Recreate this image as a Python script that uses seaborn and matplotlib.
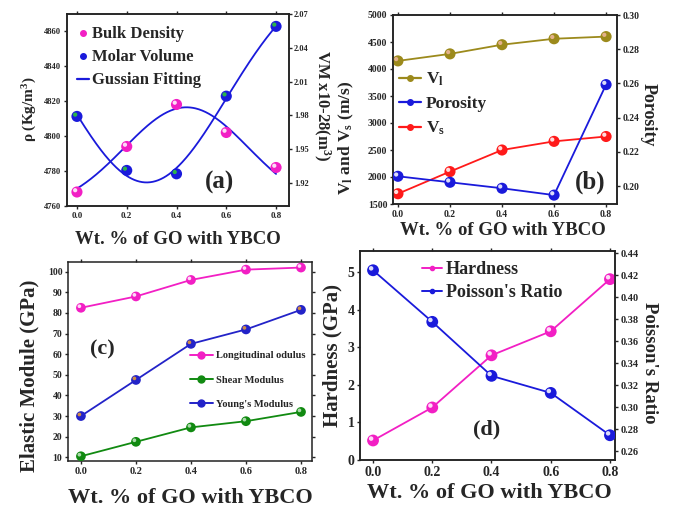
import numpy as np
import matplotlib
matplotlib.use("Agg")
import matplotlib.pyplot as plt
import matplotlib.transforms as mtransforms
from matplotlib.lines import Line2D
from matplotlib.ticker import FormatStrFormatter
import seaborn as sns

# ---------------- data ----------------
go_wt = [0.0, 0.2, 0.4, 0.6, 0.8]
x_ticks = [0.0, 0.2, 0.4, 0.6, 0.8]

# (a) density and molar volume
bulk_density = [4768, 4794, 4818, 4802, 4782]
molar_volume = [1.979, 1.931, 1.928, 1.997, 2.059]

# (b) sound velocities and porosity
v_long = [4150, 4280, 4450, 4560, 4600]
v_shear = [1690, 2100, 2500, 2660, 2750]
porosity = [0.2057, 0.2022, 0.1987, 0.1947, 0.2593]

# (c) elastic moduli
longitudinal_mod = [82.5, 88.0, 96.0, 101.0, 102.0]
shear_mod = [10.5, 17.5, 24.5, 27.5, 32.0]
young_mod = [30.0, 47.5, 65.0, 72.0, 81.5]

# (d) hardness and Poisson's ratio
hardness = [0.52, 1.40, 2.79, 3.43, 4.82]
poisson = [0.4245, 0.3776, 0.3285, 0.313, 0.2745]

# ---------------- style ----------------
sns.set_style("ticks")
plt.rcParams.update({
    "font.family": ["Liberation Serif", "DejaVu Serif"],
    "font.weight": "bold",
    "axes.labelweight": "bold",
    "mathtext.fontset": "custom",
    "mathtext.rm": "Liberation Serif:bold",
    "mathtext.it": "Liberation Serif:bold",
    "mathtext.bf": "Liberation Serif:bold",
    "axes.linewidth": 1.1,
    "xtick.major.width": 1.0,
    "ytick.major.width": 1.0,
    "xtick.major.size": 2.5,
    "ytick.major.size": 2.5,
    "xtick.major.pad": 2,
    "ytick.major.pad": 1.5,
    "axes.edgecolor": "#222222",
})

PINK = "#f21fc4"
BLUE = "#1a1adb"
OLIVE = "#9c8a1c"
RED = "#ff1a1a"
GREEN = "#118a11"
CBLUE = "#2323c8"


def gauss_fit(x, y, n=300):
    """Least-squares Gaussian y0 + A*exp(-(x-xc)^2/(2w^2)), grid over xc, w."""
    x = np.asarray(x, float)
    y = np.asarray(y, float)
    best = None
    ones = np.ones_like(x)
    for xc in np.linspace(-0.6, 1.6, 221):
        for w in np.linspace(0.05, 1.2, 116):
            g = np.exp(-(x - xc) ** 2 / (2 * w * w))
            M = np.column_stack([ones, g])
            coef, *_ = np.linalg.lstsq(M, y, rcond=None)
            r = np.sum((M @ coef - y) ** 2)
            if best is None or r < best[0]:
                best = (r, xc, w, coef)
    _, xc, w, (y0, A) = best
    xs = np.linspace(x.min(), x.max(), n)
    return xs, y0 + A * np.exp(-(xs - xc) ** 2 / (2 * w * w))


def spheres(ax, x, y, color, ms, glint="white"):
    """Shaded ball markers: base disc plus an offset highlight."""
    sns.scatterplot(x=x, y=y, ax=ax, color=color, s=ms ** 2,
                    edgecolor="none", zorder=4, legend=False)
    shift = mtransforms.offset_copy(ax.transData, fig=ax.figure,
                                    x=-ms * 0.16, y=ms * 0.16, units="points")
    ax.scatter(x, y, s=(ms * 0.38) ** 2, color=glint, transform=shift,
               zorder=5, edgecolors="none", alpha=0.85)


def style_x(ax, xlim, size):
    ax.set_xlim(*xlim)
    ax.set_xticks(x_ticks)
    ax.xaxis.set_major_formatter(FormatStrFormatter("%.1f"))
    ax.tick_params(axis="x", labelsize=size, top=True, direction="out")


def set_ylabel_at(ax, text, x, y, size, rotation=90):
    ax.set_ylabel(text, fontsize=size, fontweight="bold", rotation=rotation)
    ax.yaxis.set_label_coords(x, y)
    ax.yaxis.label.set_va("center")
    ax.yaxis.label.set_ha("center")
    ax.yaxis.label.set_rotation_mode("default")


def set_xlabel_at(ax, text, x, y, size):
    ax.set_xlabel(text, fontsize=size, fontweight="bold")
    ax.xaxis.set_label_coords(x, y)
    ax.xaxis.label.set_va("center")


def bold_ticks(ax):
    for lab in ax.get_xticklabels() + ax.get_yticklabels():
        lab.set_fontweight("bold")


W, H = 675, 508
fig = plt.figure(figsize=(W / 100, H / 100), dpi=100)
fig.patch.set_facecolor("white")


def box(l, r, t, b):
    return [l / W, 1 - b / H, (r - l) / W, (b - t) / H]


XLAB = "Wt. % of GO with YBCO"

# ---------------- (a) ----------------
ax_a = fig.add_axes(box(67, 289, 14, 206))
ax_a2 = ax_a.twinx()
xs, fit_bd = gauss_fit(go_wt, bulk_density)
xs2, fit_mv = gauss_fit(go_wt, molar_volume)
sns.lineplot(x=xs, y=fit_bd, ax=ax_a, color=BLUE, lw=1.3)
sns.lineplot(x=xs2, y=fit_mv, ax=ax_a2, color=BLUE, lw=1.3)
spheres(ax_a, go_wt, bulk_density, PINK, 8.0)
spheres(ax_a2, go_wt, molar_volume, BLUE, 8.0, glint="#2fd02f")
ax_a.set_ylim(4760, 4869.7)
ax_a.set_yticks(np.arange(4760, 4861, 20))
ax_a2.set_ylim(1.8994, 2.0694)
ax_a2.set_yticks(np.arange(1.92, 2.071, 0.03))
ax_a2.yaxis.set_major_formatter(FormatStrFormatter("%.2f"))
style_x(ax_a, (-0.04, 0.852), 6.5)
ax_a.tick_params(axis="y", labelsize=6.2)
ax_a2.tick_params(axis="y", labelsize=6.0, pad=1)
set_ylabel_at(ax_a, r"ρ (Kg/m$^3$)", -0.167, 0.505, 11)
set_ylabel_at(ax_a2, r"VM x10-28(m$^3$)", 1.148, 0.52, 12, rotation=270)
set_xlabel_at(ax_a, XLAB, 0.498, -0.177, 13.5)
ax_a.text(0.689, 0.125, "(a)", transform=ax_a.transAxes, fontsize=18,
          fontweight="bold", ha="center", va="center")
handles_a = [
    Line2D([], [], ls="none", marker="o", color=PINK, markersize=4),
    Line2D([], [], ls="none", marker="o", color=BLUE, markersize=4),
    Line2D([], [], color=BLUE, lw=1.6),
]
ax_a.legend(handles_a, ["Bulk Density", "Molar Volume", "Gussian Fitting"],
            loc="upper left", bbox_to_anchor=(0.045, 0.935), frameon=False,
            prop={"size": 12, "weight": "bold"}, handlelength=0.7,
            handletextpad=0.2, labelspacing=0.42, borderpad=0, borderaxespad=0)
bold_ticks(ax_a); bold_ticks(ax_a2)

# ---------------- (b) ----------------
ax_b = fig.add_axes(box(393, 617, 15, 204))
ax_b2 = ax_b.twinx()
sns.lineplot(x=go_wt, y=v_long, ax=ax_b, color=OLIVE, lw=1.3)
sns.lineplot(x=go_wt, y=v_shear, ax=ax_b, color=RED, lw=1.3)
sns.lineplot(x=go_wt, y=porosity, ax=ax_b2, color=BLUE, lw=1.3)
spheres(ax_b, go_wt, v_long, OLIVE, 8.0, glint="#f0b8a0")
spheres(ax_b, go_wt, v_shear, RED, 8.0)
spheres(ax_b2, go_wt, porosity, BLUE, 8.0)
ax_b.set_ylim(1500, 5000)
ax_b.set_yticks(np.arange(1500, 5001, 500))
ax_b2.set_ylim(0.1895, 0.30)
ax_b2.set_yticks(np.arange(0.20, 0.301, 0.02))
ax_b2.yaxis.set_major_formatter(FormatStrFormatter("%.2f"))
style_x(ax_b, (-0.019, 0.842), 7)
ax_b.tick_params(axis="y", labelsize=7)
ax_b2.tick_params(axis="y", labelsize=7)
set_ylabel_at(ax_b, r"V$_l$ and V$_s$ (m/s)", -0.21, 0.35, 12.5)
set_ylabel_at(ax_b2, "Porosity", 1.138, 0.47, 13, rotation=270)
set_xlabel_at(ax_b, XLAB, 0.49, -0.138, 13.5)
ax_b.text(0.879, 0.116, "(b)", transform=ax_b.transAxes, fontsize=18,
          fontweight="bold", ha="center", va="center")
handles_b = [
    Line2D([], [], color=OLIVE, lw=1.6, marker="o", markersize=4),
    Line2D([], [], color=BLUE, lw=1.6, marker="o", markersize=4),
    Line2D([], [], color=RED, lw=1.6, marker="o", markersize=4),
]
ax_b.legend(handles_b, [r"V$_\mathbf{l}$", "Porosity", r"V$_\mathbf{s}$"],
            loc="upper left", bbox_to_anchor=(0.025, 0.705), frameon=False,
            prop={"size": 12.5, "weight": "bold"}, handlelength=1.3,
            handletextpad=0.25, labelspacing=0.45, borderpad=0, borderaxespad=0)
bold_ticks(ax_b); bold_ticks(ax_b2)

# ---------------- (c) ----------------
ax_c = fig.add_axes(box(68, 312, 262, 461))
sns.lineplot(x=go_wt, y=longitudinal_mod, ax=ax_c, color=PINK, lw=1.3)
sns.lineplot(x=go_wt, y=young_mod, ax=ax_c, color=CBLUE, lw=1.3)
sns.lineplot(x=go_wt, y=shear_mod, ax=ax_c, color=GREEN, lw=1.3)
spheres(ax_c, go_wt, longitudinal_mod, PINK, 7.0)
spheres(ax_c, go_wt, young_mod, CBLUE, 7.0, glint="#f0a030")
spheres(ax_c, go_wt, shear_mod, GREEN, 7.0, glint="#c8e8c8")
ax_c.set_ylim(8.2, 104.7)
ax_c.set_yticks(np.arange(10, 101, 10))
style_x(ax_c, (-0.047, 0.84), 7.5)
ax_c.tick_params(axis="y", labelsize=7, right=True)
set_ylabel_at(ax_c, "Elastic Module (GPa)", -0.156, 0.43, 15)
set_xlabel_at(ax_c, XLAB, 0.5, -0.186, 16)
ax_c.text(0.09, 0.558, "(c)", transform=ax_c.transAxes, fontsize=16,
          fontweight="bold", ha="left", va="center")
handles_c = [
    Line2D([], [], color=PINK, lw=1.4, marker="o", markersize=5),
    Line2D([], [], color=GREEN, lw=1.4, marker="o", markersize=5),
    Line2D([], [], color=CBLUE, lw=1.4, marker="o", markersize=5),
]
ax_c.legend(handles_c, ["Longitudinal odulus", "Shear Modulus", "Young's Modulus"],
            loc="upper left", bbox_to_anchor=(0.5, 0.553), frameon=False,
            prop={"size": 7.5, "weight": "bold"}, handlelength=2.2,
            handletextpad=0.3, labelspacing=1.45, borderpad=0, borderaxespad=0)
bold_ticks(ax_c)

# ---------------- (d) ----------------
ax_d = fig.add_axes(box(360, 615, 251, 460))
ax_d2 = ax_d.twinx()
sns.lineplot(x=go_wt, y=hardness, ax=ax_d, color=PINK, lw=1.3)
sns.lineplot(x=go_wt, y=poisson, ax=ax_d2, color=BLUE, lw=1.3)
spheres(ax_d, go_wt, hardness, PINK, 8.5)
spheres(ax_d2, go_wt, poisson, BLUE, 8.5)
ax_d.set_ylim(0, 5.57)
ax_d.set_yticks(np.arange(0, 6, 1))
ax_d2.set_ylim(0.252, 0.442)
ax_d2.set_yticks(np.arange(0.26, 0.441, 0.02))
ax_d2.yaxis.set_major_formatter(FormatStrFormatter("%.2f"))
style_x(ax_d, (-0.044, 0.817), 10)
ax_d.tick_params(axis="y", labelsize=10)
ax_d2.tick_params(axis="y", labelsize=7.5)
set_ylabel_at(ax_d, "Hardness (GPa)", -0.106, 0.50, 15)
set_ylabel_at(ax_d2, "Poisson's Ratio", 1.137, 0.464, 13.5, rotation=270)
set_xlabel_at(ax_d, XLAB, 0.506, -0.158, 16)
ax_d.text(0.498, 0.144, "(d)", transform=ax_d.transAxes, fontsize=16,
          fontweight="bold", ha="center", va="center")
handles_d = [
    Line2D([], [], color=PINK, lw=1.4, marker="o", markersize=3),
    Line2D([], [], color=BLUE, lw=1.4, marker="o", markersize=3),
]
ax_d.legend(handles_d, ["Hardness", "Poisson's Ratio"],
            loc="upper left", bbox_to_anchor=(0.245, 0.95), frameon=False,
            prop={"size": 13, "weight": "bold"}, handlelength=1.1,
            handletextpad=0.2, labelspacing=0.3, borderpad=0, borderaxespad=0)
bold_ticks(ax_d); bold_ticks(ax_d2)

for a in (ax_a, ax_b, ax_c, ax_d):
    a.tick_params(axis="x", top=True)

fig.savefig("out.png", dpi=100, facecolor="white")
